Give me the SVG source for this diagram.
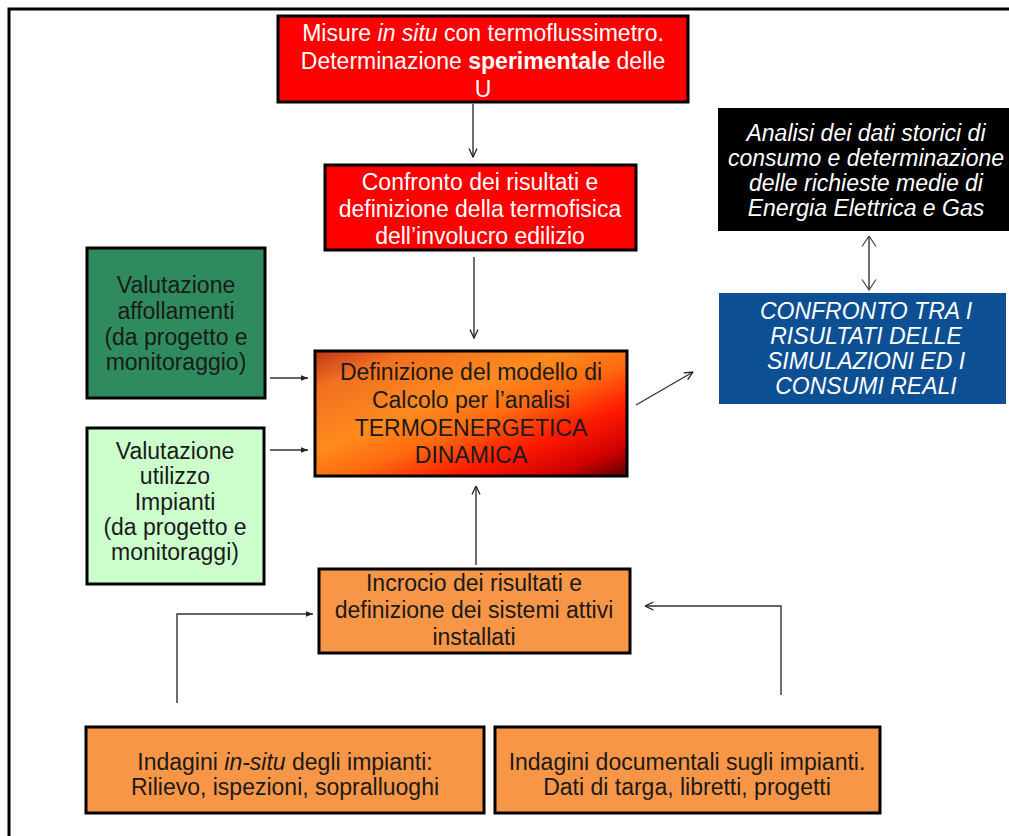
<svg xmlns="http://www.w3.org/2000/svg" width="1009" height="836" viewBox="0 0 1009 836">
<style>
.t{font-family:"Liberation Sans",Arial,sans-serif;font-size:23px;text-anchor:middle}
.w{fill:#ffffff}
.d{fill:#1a1a1a}
.i{font-style:italic}
.b{font-weight:bold}
.box{stroke:#000;stroke-width:3}
.ln{fill:none;stroke:#333;stroke-width:1.4}
</style>
<defs>
<linearGradient id="g" x1="0" y1="0" x2="1" y2="1">
<stop offset="0" stop-color="#c0361a"/>
<stop offset="0.15" stop-color="#f07020"/>
<stop offset="0.4" stop-color="#ff8a1e"/>
<stop offset="0.55" stop-color="#ff6a10"/>
<stop offset="0.72" stop-color="#ff1a00"/>
<stop offset="0.88" stop-color="#d00000"/>
<stop offset="1" stop-color="#5a0000"/>
</linearGradient>
<marker id="a" viewBox="0 0 10 10" refX="9.5" refY="5" markerWidth="10" markerHeight="10" orient="auto-start-reverse" markerUnits="userSpaceOnUse">
<path d="M1,1 L9.5,5 L1,9" fill="none" stroke="#222" stroke-width="1.3"/>
</marker>
<marker id="s" viewBox="0 0 10 10" refX="10" refY="5" markerWidth="7" markerHeight="7" orient="auto" markerUnits="userSpaceOnUse">
<path d="M0,1 L10,5 L0,9 Z" fill="#222"/>
</marker>
<marker id="big" viewBox="0 0 12 16" refX="11.5" refY="8" markerWidth="12" markerHeight="16" orient="auto-start-reverse" markerUnits="userSpaceOnUse">
<path d="M1,1 L11.5,8 L1,15" fill="none" stroke="#444" stroke-width="1.2"/>
</marker>
</defs>
<rect width="1009" height="836" fill="#ffffff"/>
<path d="M9,836 V9 H1009" fill="none" stroke="#000" stroke-width="3"/>

<g id="connectors">
<path class="ln" d="M473,104 V157" marker-end="url(#a)"/>
<path class="ln" d="M474,257 V338" marker-end="url(#a)"/>
<path class="ln" d="M270,378 H308" marker-end="url(#s)"/>
<path class="ln" d="M270,450 H308" marker-end="url(#s)"/>
<path class="ln" d="M636,405 L693,372" marker-end="url(#a)"/>
<path class="ln" d="M476,565 V486" marker-end="url(#a)"/>
<path class="ln" d="M177,703 V614 H313" marker-end="url(#s)"/>
<path class="ln" d="M781,695 V606 H645" marker-end="url(#a)"/>
<path class="ln" d="M869,236 V290" marker-start="url(#big)" marker-end="url(#big)"/>
</g>

<g id="n-misure">
<rect class="box" x="278" y="16" width="410" height="86" fill="#ff0000"/>
<text class="t w" x="483" y="41">Misure <tspan class="i">in situ</tspan> con termoflussimetro.</text>
<text class="t w" x="483" y="69">Determinazione <tspan class="b">sperimentale</tspan> delle</text>
<text class="t w" x="483" y="97">U</text>
</g>

<g id="n-confronto">
<rect class="box" x="325" y="165" width="311" height="85" fill="#ff0000"/>
<text class="t w" x="480" y="190">Confronto dei risultati e</text>
<text class="t w" x="480" y="217">definizione della termofisica</text>
<text class="t w" x="480" y="244">dell’involucro edilizio</text>
</g>

<g id="n-modello">
<rect class="box" x="315" y="351" width="312" height="125" fill="url(#g)"/>
<text class="t d" x="471" y="380">Definizione del modello di</text>
<text class="t d" x="471" y="408">Calcolo per l’analisi</text>
<text class="t d" x="471" y="436">TERMOENERGETICA</text>
<text class="t d" x="471" y="463">DINAMICA</text>
</g>

<g id="n-analisi">
<rect x="718" y="108" width="291" height="123" fill="#000"/>
<text class="t w i" x="866" y="141">Analisi dei dati storici di</text>
<text class="t w i" x="866" y="166">consumo e determinazione</text>
<text class="t w i" x="866" y="191">delle richieste medie di</text>
<text class="t w i" x="866" y="216">Energia Elettrica e Gas</text>
</g>

<g id="n-confronto-consumi">
<rect x="719" y="293" width="287" height="111" fill="#0d4f93"/>
<text class="t w i" x="866" y="319">CONFRONTO TRA I</text>
<text class="t w i" x="866" y="344">RISULTATI DELLE</text>
<text class="t w i" x="866" y="369">SIMULAZIONI ED I</text>
<text class="t w i" x="866" y="394">CONSUMI REALI</text>
</g>

<g id="n-affollamenti">
<rect class="box" x="87" y="248" width="178" height="150" fill="#2f8b5e"/>
<text class="t d" x="176" y="293">Valutazione</text>
<text class="t d" x="176" y="319">affollamenti</text>
<text class="t d" x="176" y="345">(da progetto e</text>
<text class="t d" x="176" y="370">monitoraggio)</text>
</g>

<g id="n-impianti">
<rect class="box" x="87" y="428" width="177" height="156" fill="#ccffcc"/>
<text class="t d" x="175" y="459">Valutazione</text>
<text class="t d" x="175" y="484">utilizzo</text>
<text class="t d" x="175" y="510">Impianti</text>
<text class="t d" x="175" y="535">(da progetto e</text>
<text class="t d" x="175" y="560">monitoraggi)</text>
</g>

<g id="n-incrocio">
<rect class="box" x="319" y="569" width="311" height="84" fill="#f79646"/>
<text class="t d" x="474" y="591">Incrocio dei risultati e</text>
<text class="t d" x="474" y="618">definizione dei sistemi attivi</text>
<text class="t d" x="474" y="645">installati</text>
</g>

<g id="n-insitu">
<rect class="box" x="86" y="727" width="398" height="86" fill="#f79646"/>
<text class="t d" x="285" y="770">Indagini <tspan class="i">in-situ</tspan> degli impianti:</text>
<text class="t d" x="285" y="795">Rilievo, ispezioni, sopralluoghi</text>
</g>

<g id="n-documentali">
<rect class="box" x="495" y="727" width="385" height="86" fill="#f79646"/>
<text class="t d" x="687" y="770">Indagini documentali sugli impianti.</text>
<text class="t d" x="687" y="795">Dati di targa, libretti, progetti</text>
</g>
</svg>
